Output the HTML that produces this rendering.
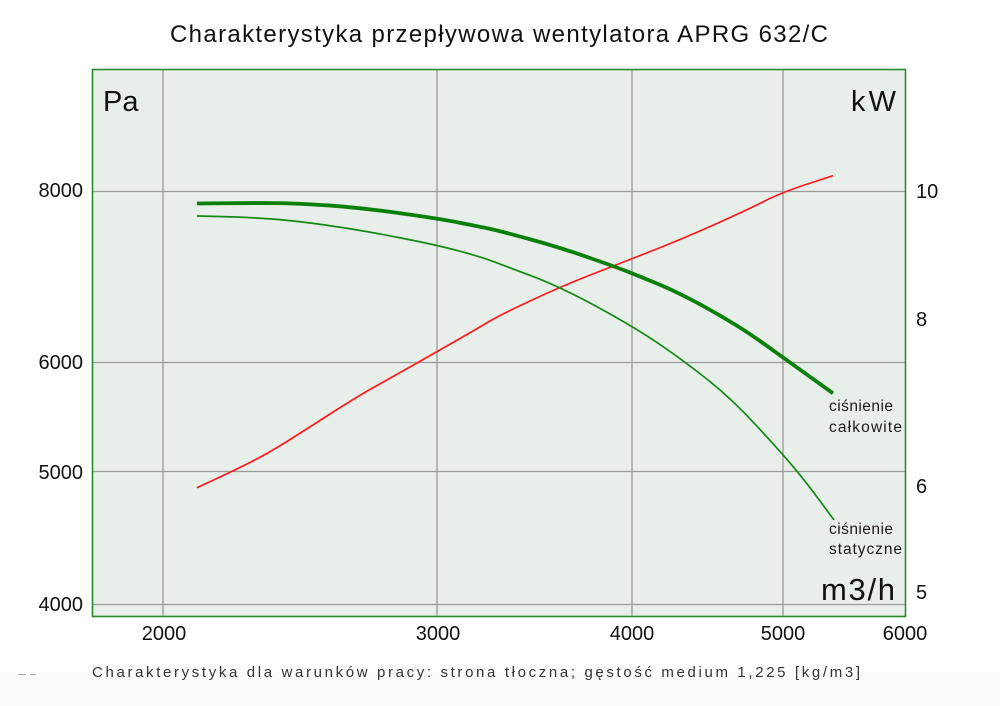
<!DOCTYPE html>
<html><head><meta charset="utf-8"><style>
html,body{margin:0;padding:0;background:#fff;}
svg{display:block;}
text{font-family:"Liberation Sans",sans-serif;}
</style></head><body>
<svg width="1000" height="706" viewBox="0 0 1000 706" xmlns="http://www.w3.org/2000/svg">
<rect x="0" y="0" width="1000" height="706" fill="#ffffff"/>
<rect x="0" y="672" width="1000" height="34" fill="#fcfbf8"/>
<text x="499" y="42" font-size="24" fill="#111" text-anchor="middle" textLength="658" lengthAdjust="spacing">Charakterystyka przepływowa wentylatora APRG 632/C</text>
<rect x="92.5" y="69.5" width="813" height="547" fill="#e8eeea"/>
<g stroke="#9a9a9a" stroke-width="1.3" fill="none">
<line x1="163" y1="70" x2="163" y2="616"/>
<line x1="437" y1="70" x2="437" y2="616"/>
<line x1="632" y1="70" x2="632" y2="616"/>
<line x1="783" y1="70" x2="783" y2="616"/>
<line x1="93" y1="191.5" x2="905" y2="191.5"/>
<line x1="93" y1="362.5" x2="905" y2="362.5"/>
<line x1="93" y1="471.5" x2="905" y2="471.5"/>
<line x1="93" y1="604.5" x2="905" y2="604.5"/>
</g>
<rect x="92.5" y="69.5" width="813" height="547" fill="none" stroke="#2a8a2a" stroke-width="1.6"/>
<path fill="none" stroke="#ff1a1a" stroke-width="1.7" stroke-linejoin="round" d="M197,487.7 L215,479.35 Q233,471 250,462.5 Q267,454 283.5,443.65 Q300,433.3 328.5,415 Q357,396.7 373.5,387.5 Q390,378.3 413.5,365 Q437,351.7 458.5,339.35 Q480,327 490,321 Q500,315 530,301 Q560,287 586.5,276.5 Q613,266 646.5,253 Q680,240 713.5,225 Q747,210 764.5,201.15 Q782,192.3 807.5,184 L833,175.7"/>
<path fill="none" stroke="#138a13" stroke-width="1.7" stroke-linejoin="round" d="M197,216 L223.5,216.65 Q250,217.3 273.5,219.15 Q297,221 328.5,225.5 Q360,230 398.5,237.5 Q437,245 458.5,250.85 Q480,256.7 490,260.35 Q500,264 530,275.35 Q560,286.7 596,306.2 Q632,325.7 656,341.85 Q680,358 705.5,378 Q731,398 756.5,425.65 Q782,453.3 794.5,468.3 Q807,483.3 820.5,501.65 L834,520"/>
<path fill="none" stroke="#0a800a" stroke-width="3.8" stroke-linejoin="round" d="M197,203.5 L223.5,203.25 Q250,203 273.5,203.1 Q297,203.2 328.5,205.45 Q360,207.7 398.5,213 Q437,218.3 458.5,222.5 Q480,226.7 490,228.85 Q500,231 530,239.25 Q560,247.5 586.5,256.75 Q613,266 622.5,269.65 Q632,273.3 656,283.15 Q680,293 710,309.85 Q740,326.7 761,341.7 Q782,356.7 807.5,375 L833,393.3"/>
<g font-size="29" fill="#111">
<text x="103" y="111">Pa</text>
<text x="851" y="111" textLength="45" lengthAdjust="spacing">kW</text>
<text x="821" y="600" font-size="31" textLength="74" lengthAdjust="spacing">m3/h</text>
</g>
<g font-size="15.5" fill="#1a1a1a">
<text x="829" y="411" textLength="64" lengthAdjust="spacing">ciśnienie</text>
<text x="829" y="432" textLength="73" lengthAdjust="spacing">całkowite</text>
<text x="829" y="534" textLength="64" lengthAdjust="spacing">ciśnienie</text>
<text x="829" y="554" textLength="73" lengthAdjust="spacing">statyczne</text>
</g>
<g font-size="20" fill="#111" text-anchor="end">
<text x="83" y="197">8000</text>
<text x="83" y="369">6000</text>
<text x="83" y="479">5000</text>
<text x="83" y="611">4000</text>
</g>
<g font-size="20" fill="#111">
<text x="916" y="198">10</text>
<text x="916" y="326">8</text>
<text x="916" y="493">6</text>
<text x="916" y="599">5</text>
</g>
<g font-size="20" fill="#111" text-anchor="middle">
<text x="164" y="640">2000</text>
<text x="438" y="640">3000</text>
<text x="632" y="640">4000</text>
<text x="783" y="640">5000</text>
<text x="905" y="640">6000</text>
</g>
<text x="92" y="677" font-size="15" fill="#333" textLength="768" lengthAdjust="spacing">Charakterystyka dla warunków pracy: strona tłoczna; gęstość medium 1,225 [kg/m3]</text>
<g stroke="#aaa" stroke-width="1"><line x1="18" y1="674.5" x2="26" y2="674.5"/><line x1="30" y1="674.5" x2="36" y2="674.5"/></g>
</svg>
</body></html>
